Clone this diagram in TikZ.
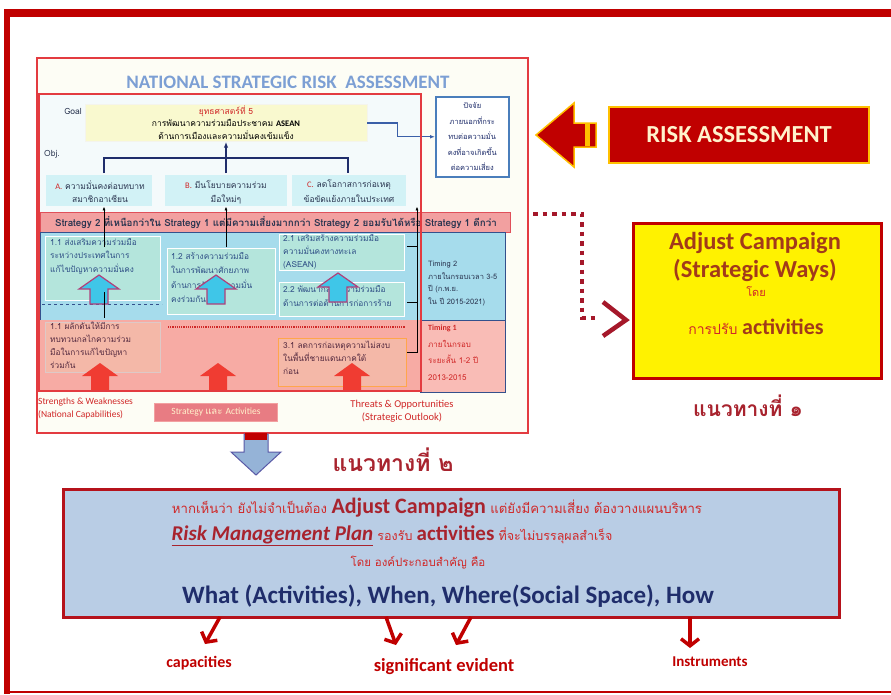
\documentclass[tikz,border=0pt]{standalone}
\usepackage{fontspec}
\setmainfont{Carlito}
\newfontfamily\thfont[Script=Thai]{Loma}
\usetikzlibrary{arrows.meta,calc}
\definecolor{frameRed}{HTML}{C00000}
\definecolor{panelRed}{HTML}{E33B40}
\definecolor{panelBg}{HTML}{FDFDF5}
\definecolor{innerBg}{HTML}{F4FAFB}
\definecolor{titleBlue}{HTML}{7C9FD4}
\definecolor{goalFill}{HTML}{F9F9CF}
\definecolor{objFill}{HTML}{D2F2F6}
\definecolor{stratFill}{HTML}{F2A0A0}
\definecolor{stratLine}{HTML}{E0505A}
\definecolor{blueBand}{HTML}{A6DCEC}
\definecolor{bandLine}{HTML}{34508C}
\definecolor{actFill}{HTML}{B4E5DC}
\definecolor{pinkBand}{HTML}{F7ABA4}
\definecolor{actPink}{HTML}{F4B8A8}
\definecolor{navy}{HTML}{1F2D6B}
\definecolor{txtDark}{HTML}{2A3550}
\definecolor{txtRed}{HTML}{D02828}
\definecolor{darkRed}{HTML}{A8232E}
\definecolor{boxBlue}{HTML}{B9CDE5}
\definecolor{boxRed}{HTML}{B5121B}
\definecolor{gold}{HTML}{FFC000}
\definecolor{cream}{HTML}{FFF2CC}
\definecolor{brownRed}{HTML}{A23A1A}
\definecolor{dotRed}{HTML}{A5182A}
\definecolor{arrowBlue}{HTML}{95B3D7}
\definecolor{cyanArrow}{HTML}{3FC6E8}
\definecolor{magentaLine}{HTML}{B0407A}
\definecolor{redArrow}{HTML}{F03C32}
\definecolor{connBlue}{HTML}{3A5FA8}
\definecolor{extBlue}{HTML}{4A7EBB}
\definecolor{actText}{HTML}{2F4F86}
\tikzset{
  ths/.style={font=\thfont\fontsize{8.5}{10}\selectfont, inner sep=0pt},
  nw/.style={anchor=north west, inner sep=0pt},
  blackconn/.style={black, line width=1pt},
  redarr/.style={frameRed, line width=3.5pt, -{Straight Barb[length=7pt,width=18pt]}},
  upcyan/.pic={\draw[magentaLine, fill=cyanArrow, line width=1.2pt]
     (-20,14) -- (0,0) -- (20,14) -- (9,14) -- (9,29) -- (-9,29) -- (-9,14) -- cycle;},
  upred/.pic={\fill[redArrow]
     (-18,13) -- (0,0) -- (18,13) -- (9,13) -- (9,27) -- (-9,27) -- (-9,13) -- cycle;},
}
\begin{document}
\begin{tikzpicture}[x=1pt,y=-1pt]
\useasboundingbox (0,0) rectangle (891,694);
\fill[white] (0,0) rectangle (891,694);
% outer frame
\fill[frameRed] (4,9) rectangle (891,17);
\fill[frameRed] (4,9) rectangle (10,694);
\draw[frameRed, line width=1.2pt] (4,692) -- (891,692);

% ===== left panel =====
\node[nw, draw=panelRed, line width=2pt, fill=panelBg, minimum width=491pt, minimum height=375pt] (panel) at (36,57) {};
\node[font=\bfseries\fontsize{19}{19}\selectfont, text=titleBlue] (title) at (288,82) {NATIONAL STRATEGIC RISK\ \ ASSESSMENT};
\fill[innerBg] (38,93) rectangle (420,212);
% goal
\node[draw=goalFill!80!black!20, fill=goalFill, minimum width=282pt, minimum height=37pt] (goal) at (226,123) {};
\node[ths, text=txtDark] (goallbl) at (73,111) {Goal};
\node[ths, text=txtRed] (g1) at (226,111) {ยุทธศาสตร์ที่ 5};
\node[ths, text=black] (g2) at (226,123) {การพัฒนาความร่วมมือประชาคม \textbf{\rmfamily ASEAN}};
\node[ths, text=black] (g3) at (226,135) {ด้านการเมืองและความมั่นคงเข้มแข็ง};
% external factor box
\node[nw, draw=extBlue, line width=1.5pt, fill=white, minimum width=73pt, minimum height=80pt] (extbox) at (435,96) {};
\node[ths, text=navy, align=center, font=\thfont\fontsize{7.5}{15.5}\selectfont] (exttxt) at (extbox.center) {ปัจจัย\\ภายนอกที่กระ\\ทบต่อความมั่น\\คงที่อาจเกิดขึ้น\\ต่อความเสี่ยง};
\draw[connBlue, line width=1.2pt, -{Latex[length=5pt]}] (goal.east) -- ++(30,0) |- (extbox.west);
% objectives
\node[ths, text=txtDark] (objlbl) at (52,154) {Obj.};
\node[nw, fill=objFill, minimum width=106pt, minimum height=31pt] (objA) at (46,175) {};
\node[nw, fill=objFill, minimum width=122pt, minimum height=31pt] (objB) at (165,175) {};
\node[nw, fill=objFill, minimum width=114pt, minimum height=31pt] (objC) at (292,175) {};
\node[ths, text=txtDark] (tA1) at (100,185) {\textcolor{txtRed}{\rmfamily A.} ความมั่นคงต่อบทบาท};
\node[ths, text=txtDark] (tA2) at (100,199) {สมาชิกอาเซียน};
\node[ths, text=txtDark] (tB1) at (226,185) {\textcolor{txtRed}{\rmfamily B.} มีนโยบายความร่วม};
\node[ths, text=txtDark] (tB2) at (226,199) {มือใหม่ๆ};
\node[ths, text=txtDark] (tC1) at (349,185) {\textcolor{txtRed}{\rmfamily C.} ลดโอกาสการก่อเหตุ};
\node[ths, text=txtDark] (tC2) at (349,199) {ข้อขัดแย้งภายในประเทศ};
\draw[navy, line width=2pt] (104,173) |- (348,158) -- (348,173);
\draw[navy, line width=2pt, -{Latex[length=6pt]}] (226,173) -- (goal.south);

% strategy band
\node[nw, draw=stratLine, fill=stratFill, line width=1pt, minimum width=470pt, minimum height=20pt] (strat) at (40,212) {};
\node[ths, font=\thfont\bfseries\fontsize{9.8}{10}\selectfont, text=txtDark] (strattxt) at (276,222) {Strategy 2 ที่เหนือกว่าใน Strategy 1 แต่มีความเสี่ยงมากกว่า Strategy 2 ยอมรับได้หรือ Strategy 1 ดีกว่า};

% timing 2 band
\node[nw, draw=bandLine, fill=blueBand, line width=1pt, minimum width=465pt, minimum height=88pt] (band2) at (40,232) {};
\node[nw, fill=actFill, draw=white, minimum width=115pt, minimum height=64pt] (a11) at (45,236) {};
\node[nw, fill=actFill, draw=white, minimum width=108pt, minimum height=66pt] (a12) at (167,248) {};
\node[nw, fill=actFill, draw=white, minimum width=125pt, minimum height=36pt] (a21) at (279,234) {};
\node[nw, fill=actFill, draw=white, minimum width=125pt, minimum height=34pt] (a22) at (279,282) {};
\draw[bandLine, dashed] (42,304) -- (162,304);
\node[ths, nw, text=actText, align=left, font=\thfont\fontsize{8.3}{13.5}\selectfont] (t11) at (50,238) {1.1 ส่งเสริมความร่วมมือ\\ระหว่างประเทศในการ\\แก้ไขปัญหาความมั่นคง};
\node[ths, nw, text=actText, align=left, font=\thfont\fontsize{8.3}{14.5}\selectfont] (t12) at (171,252) {1.2 สร้างความร่วมมือ\\ในการพัฒนาศักยภาพ\\ด้านการรักษาความมั่น\\คงร่วมกัน};
\node[ths, nw, text=actText, align=left, font=\thfont\fontsize{8.3}{13}\selectfont] (t21) at (283,234) {2.1 เสริมสร้างความร่วมมือ\\ความมั่นคงทางทะเล\\(ASEAN)};
\node[ths, nw, text=actText, align=left, font=\thfont\fontsize{8.3}{14}\selectfont] (t22) at (283,285) {2.2 พัฒนากลไกความร่วมมือ\\ด้านการต่อต้านการก่อการร้าย};
\node[ths, nw, text=txtDark, align=left, font=\thfont\fontsize{7.5}{12.5}\selectfont] (tim2) at (428,261) {Timing 2\\ภายในกรอบเวลา 3-5\\ปี (ก.พ.ย.\\ใน ปี 2015-2021)};
\pic at (99,275) {upcyan};
\pic at (216,275) {upcyan};
\pic at (338,273) {upcyan};

% timing 1 band
\node[nw, fill=pinkBand, minimum width=380pt, minimum height=70pt] (band1) at (40,320) {};
\node[nw, fill=pinkBand!80!white, draw=bandLine, minimum width=85pt, minimum height=72pt] (t1box) at (420,320) {};
\node[nw, fill=actPink, draw=pinkBand!70!black!40, minimum width=115pt, minimum height=50pt] (p11) at (45,322) {};
\node[nw, fill=actPink, draw=orange!70, line width=1pt, minimum width=128pt, minimum height=48pt] (p31) at (278,338) {};
\draw[txtRed, densely dotted, line width=1.2pt] (168,327) -- (405,327);
\node[ths, nw, text=txtDark!80!red, align=left, font=\thfont\fontsize{8.3}{13}\selectfont] (tp11) at (50,322) {1.1 ผลักดันให้มีการ\\ทบทวนกลไกความร่วม\\มือในการแก้ไขปัญหา\\ร่วมกัน};
\node[ths, nw, text=txtDark!80!red, align=left, font=\thfont\fontsize{8.3}{13}\selectfont] (tp31) at (283,341) {3.1 ลดการก่อเหตุความไม่สงบ\\ในพื้นที่ชายแดนภาคใต้\\ก่อน};
\node[ths, nw, text=txtRed, align=left, font=\thfont\fontsize{8}{16.5}\selectfont] (tim1) at (428,325) {\textbf{\rmfamily Timing 1}\\ภายในกรอบ\\ระยะสั้น 1-2 ปี\\2013-2015};
\pic at (100,363) {upred};
\pic at (218,363) {upred};
\pic at (352,363) {upred};

% inner red rectangle on top
\node[nw, draw=panelRed, line width=2pt, minimum width=382pt, minimum height=297pt] (inner) at (38,93) {};

% black connectors
\coordinate (cA) at (104,247);
\coordinate (cB) at (226,247);
\draw[blackconn, -{Latex[length=4pt]}] (cA) -- (cA |- objA.south);
\draw[blackconn, -{Latex[length=4pt]}] (cB) -- (cB |- objB.south);
\draw[blackconn] (104,292) -- (104,318);
\coordinate (r1) at (407,246);
\coordinate (r2) at (407,302);
\coordinate (r3) at (407,352);
\coordinate (r4) at (417,352);
\draw[blackconn, -{Latex[length=4pt]}] (r3) -- (r4) -- (r4 |- objC.south);
\draw[blackconn] (r1) -- (r1 -| r4);
\draw[blackconn] (r2) -- (r2 -| r4);

% bottom labels of panel
\node[ths, nw, text=txtRed, align=left, font=\fontsize{9.5}{13}\selectfont] (sw) at (38,398) {Strengths \& Weaknesses\\(National Capabilities)};
\node[fill=stratLine!75, draw=stratFill, minimum width=123pt, minimum height=18pt, text=cream, font=\fontsize{9.5}{9.5}\selectfont] (sa) at (216,412) {Strategy \thfont และ \rmfamily Activities};
\node[ths, text=txtRed, align=center, font=\fontsize{10.5}{13}\selectfont] (to) at (402,411) {Threats \& Opportunities\\(Strategic Outlook)};

% ===== down arrow =====
\filldraw[fill=arrowBlue, draw=gray!70!blue, line width=1pt] (244,434) -- (268,434) -- (268,452) -- (281,452) -- (256,475) -- (231,452) -- (244,452) -- cycle;
\fill[frameRed] (245,433) rectangle (267,440);
\node[font=\thfont\bfseries\fontsize{23}{23}\selectfont, text=darkRed] (way2) at (393,460) {แนวทางที่ ๒};

% ===== right side =====
\node[fill=frameRed, draw=gold, line width=2pt, minimum width=260pt, minimum height=56pt, font=\bfseries\fontsize{24.5}{24.5}\selectfont, text=cream] (risk) at (739,135) {RISK ASSESSMENT};
\filldraw[fill=frameRed, draw=gold, line width=1.5pt] (536,135) -- (574,103) -- (574,123) -- (596,123) -- (596,147) -- (574,147) -- (574,167) -- cycle;
\fill[gold] (585,124) rectangle (590,146);

\node[nw, fill=yellow, draw=frameRed, line width=3pt, minimum width=248pt, minimum height=155pt] (adj) at (632,222) {};
\node[inner sep=0pt, text=brownRed, font=\bfseries\fontsize{24.5}{24.5}\selectfont] (adj1) at (755,243) {Adjust Campaign};
\node[inner sep=0pt, text=brownRed, font=\bfseries\fontsize{24.5}{24.5}\selectfont] (adj2) at (755,270) {(Strategic Ways)};
\node[inner sep=0pt, text=txtRed, font=\thfont\fontsize{11}{11}\selectfont] (adj3) at (756,292) {โดย};
\node[inner sep=0pt, text=txtRed, font=\thfont\fontsize{14}{14}\selectfont] (adj4) at (756,327) {การปรับ \textcolor{brownRed}{\rmfamily\bfseries\fontsize{22}{22}\selectfont activities}};
\node[font=\thfont\bfseries\fontsize{21}{21}\selectfont, text=darkRed] (way1) at (748,406) {แนวทางที่ ๑};

\coordinate (dstart) at (533,214);
\draw[dotRed, line width=4.5pt, dash pattern=on 4.5pt off 5pt] (dstart) -| (582,318) -- (598,318);
\draw[dotRed, line width=4.5pt] (603,302) -- ($(adj.west)+(-6,19)$) -- (603,336);

% ===== bottom box =====
\node[nw, fill=boxBlue, draw=boxRed, line width=3pt, minimum width=776pt, minimum height=128pt] (plan) at (62,488) {};
\node[inner sep=0pt, text=txtRed, font=\thfont\fontsize{13.2}{13}\selectfont] (l1) at (437,508) {หากเห็นว่า ยังไม่จำเป็นต้อง \textcolor{darkRed}{\rmfamily\bfseries\fontsize{22}{22}\selectfont Adjust Campaign} แต่ยังมีความเสี่ยง ต้องวางแผนบริหาร};
\node[inner sep=0pt, text=txtRed, font=\thfont\fontsize{12.5}{13}\selectfont] (l2) at (392,536) {\textcolor{darkRed}{\rmfamily\bfseries\itshape\fontsize{21}{21}\selectfont \underline{Risk Management Plan}} รองรับ \textcolor{darkRed}{\rmfamily\bfseries\fontsize{21}{21}\selectfont activities} ที่จะไม่บรรลุผลสำเร็จ};
\node[inner sep=0pt, text=txtRed, font=\thfont\fontsize{11.5}{11}\selectfont] (l3) at (418,563) {โดย องค์ประกอบสำคัญ คือ};
\node[inner sep=0pt, text=navy, font=\bfseries\fontsize{25}{25}\selectfont] (l4) at (448,596) {What (Activities), When, Where(Social Space), How};

\node[text=frameRed, font=\bfseries\fontsize{16}{16}\selectfont] (capL) at (199,663) {capacities};
\node[text=frameRed, font=\bfseries\fontsize{18.5}{18.5}\selectfont] (sigL) at (444,667) {significant evident};
\node[text=frameRed, font=\bfseries\fontsize{15}{15}\selectfont] (insL) at (710,662) {Instruments};
\coordinate (s1) at (220,617);
\coordinate (s2) at (386,617);
\coordinate (s3) at (471,617);
\coordinate (s4) at (690,617);
\draw[redarr] (s1) -- (205,644);
\draw[redarr] (s2) -- (396,645);
\draw[redarr] (s3) -- (456,645);
\draw[redarr] (s4) -- (690,648);
\end{tikzpicture}
\end{document}
